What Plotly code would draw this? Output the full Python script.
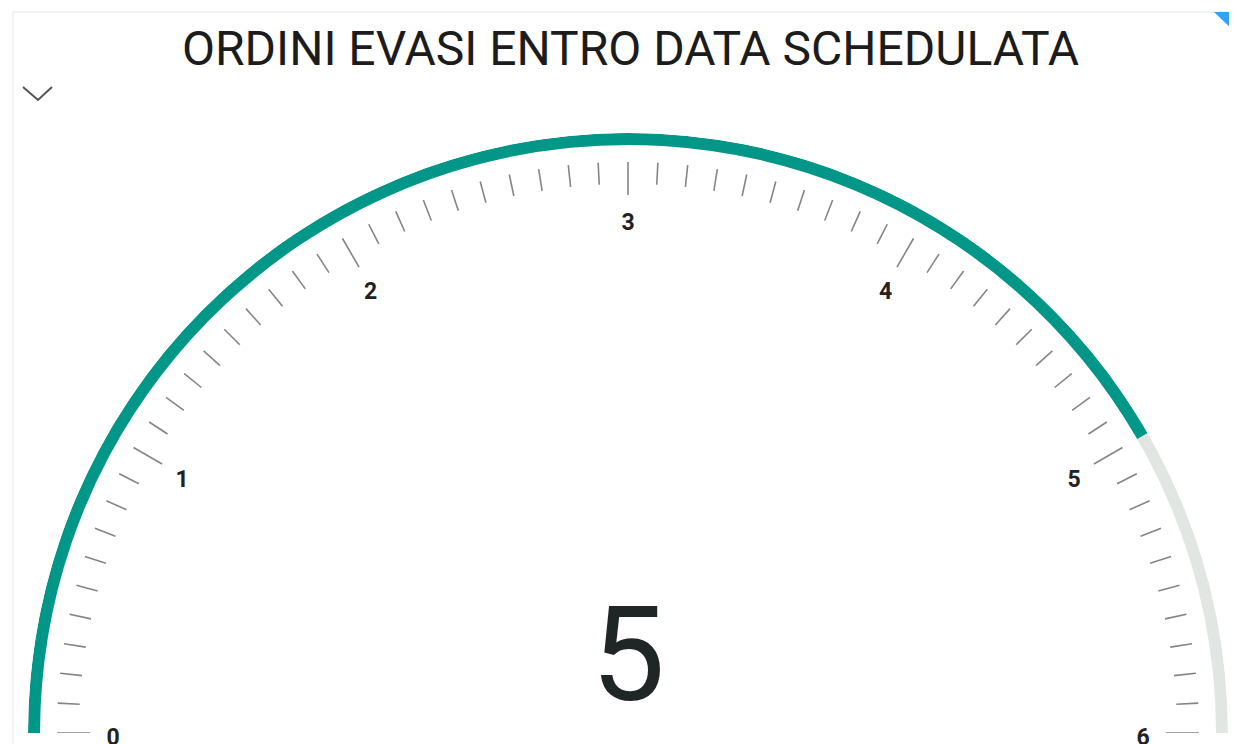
import numpy as np
import plotly.graph_objects as go

# ---- data ----
TITLE = "ORDINI EVASI ENTRO DATA SCHEDULATA"
GAUGE_MIN = 0
GAUGE_MAX = 6
VALUE = 5
MAJOR_TICKS = [0, 1, 2, 3, 4, 5, 6]
TICK_LABELS = ["0", "1", "2", "3", "4", "5", "6"]
MINOR_STEP = 0.1

# ---- style ----
OFF = 8                      # page body margin
W, H = 1237 - OFF, 744 - OFF
TEAL = "#009688"
TRACK = "#e2e6e3"
TICK_COL = "#858585"
TEXT_COL = "#1f2626"
R_OUT = 600          # radial axis range in px
BAND = 12
R_TICK_OUT = 571
R_MAJOR_IN = 538
R_MINOR_IN = 549
R_LABEL = 515
LABEL_DY = 6         # vertical nudge of label layer (px)


def theta(v):
    """map gauge value to polar angle (degrees)"""
    return (np.asarray(v, dtype=float) - GAUGE_MIN) / (GAUGE_MAX - GAUGE_MIN) * 180.0


def px_x(x):
    return (x - OFF) / W


def px_y(y):
    return 1 - (y - OFF) / H


fig = go.Figure()

# background track (full range)
fig.add_trace(go.Barpolar(
    theta=[theta((GAUGE_MIN + GAUGE_MAX) / 2)],
    r=[BAND], base=[R_OUT - BAND],
    width=[180.0],
    marker=dict(color=TRACK, line=dict(width=0)),
    hoverinfo="skip", showlegend=False,
))
# value bar
fig.add_trace(go.Barpolar(
    theta=[theta((GAUGE_MIN + VALUE) / 2)],
    r=[BAND], base=[R_OUT - BAND],
    width=[float(theta(VALUE) - theta(GAUGE_MIN))],
    marker=dict(color=TEAL, line=dict(width=0)),
    hoverinfo="skip", showlegend=False,
))

# tick marks
minor_vals = np.round(np.arange(GAUGE_MIN, GAUGE_MAX + 1e-9, MINOR_STEP), 3)
t_theta, t_r = [], []
for v in minor_vals:
    is_major = abs(v - round(v)) < 1e-6 and round(v) in MAJOR_TICKS
    r_in = R_MAJOR_IN if is_major else R_MINOR_IN
    a = float(theta(v))
    t_theta += [a, a, None]
    t_r += [r_in, R_TICK_OUT, None]
fig.add_trace(go.Scatterpolar(
    theta=t_theta, r=t_r, mode="lines",
    line=dict(color=TICK_COL, width=1.6),
    hoverinfo="skip", showlegend=False, cliponaxis=False,
))

# tick labels (separate polar layer, nudged down slightly)
fig.add_trace(go.Scatterpolar(
    theta=list(theta(MAJOR_TICKS)), r=[R_LABEL] * len(MAJOR_TICKS),
    mode="text", text=TICK_LABELS,
    textfont=dict(family="Roboto", size=23, color="#222222", weight="bold"),
    textposition="middle center",
    hoverinfo="skip", showlegend=False, cliponaxis=False,
    subplot="polar2",
))

cx0, cx1 = 628 - R_OUT, 628 + R_OUT
cy_center, cy_top = 733, 733 - R_OUT

angular = dict(rotation=180, direction="clockwise", visible=False,
               showgrid=False, showline=False, ticks="")
radial = dict(range=[0, R_OUT], visible=False, showgrid=False,
              showline=False, ticks="")

fig.update_layout(
    width=W, height=H,
    margin=dict(l=0, r=0, t=0, b=0),
    paper_bgcolor="white",
    plot_bgcolor="white",
    showlegend=False,
    polar=dict(
        domain=dict(x=[px_x(cx0), px_x(cx1)], y=[px_y(cy_center), px_y(cy_top)]),
        sector=[0, 180], hole=0, bgcolor="rgba(0,0,0,0)", bargap=0,
        angularaxis=angular, radialaxis=radial,
    ),
    polar2=dict(
        domain=dict(x=[px_x(cx0), px_x(cx1)],
                    y=[px_y(cy_center + LABEL_DY), px_y(cy_top + LABEL_DY)]),
        sector=[0, 180], hole=0, bgcolor="rgba(0,0,0,0)",
        angularaxis=angular, radialaxis=radial,
    ),
    annotations=[
        dict(text=TITLE, x=px_x(630), y=px_y(48), xref="paper", yref="paper",
             showarrow=False, xanchor="center", yanchor="middle",
             font=dict(family="Roboto", size=48, color="#1c1c1c")),
        dict(text=str(VALUE), x=px_x(628), y=px_y(655), xref="paper", yref="paper",
             showarrow=False, xanchor="center", yanchor="middle",
             font=dict(family="Roboto", size=132, color=TEXT_COL)),
    ],
    shapes=[
        # panel border
        dict(type="rect", xref="paper", yref="paper",
             x0=px_x(13), x1=px_x(1245), y0=px_y(760), y1=px_y(12),
             line=dict(color="#eef1ee", width=1.5), fillcolor="rgba(0,0,0,0)", layer="below"),
        # chevron
        dict(type="path", xref="paper", yref="paper",
             path=f"M {px_x(23)},{px_y(87)} L {px_x(38)},{px_y(100)} L {px_x(52)},{px_y(87)}",
             line=dict(color="#555555", width=2)),
        # corner triangle
        dict(type="path", xref="paper", yref="paper",
             path=f"M {px_x(1214)},{px_y(12)} L {px_x(1237)},{px_y(12)} L {px_x(1237)},{px_y(34)} Z",
             line=dict(width=0), fillcolor="#2fa4f7"),
    ],
)

fig.write_html("out.html")
